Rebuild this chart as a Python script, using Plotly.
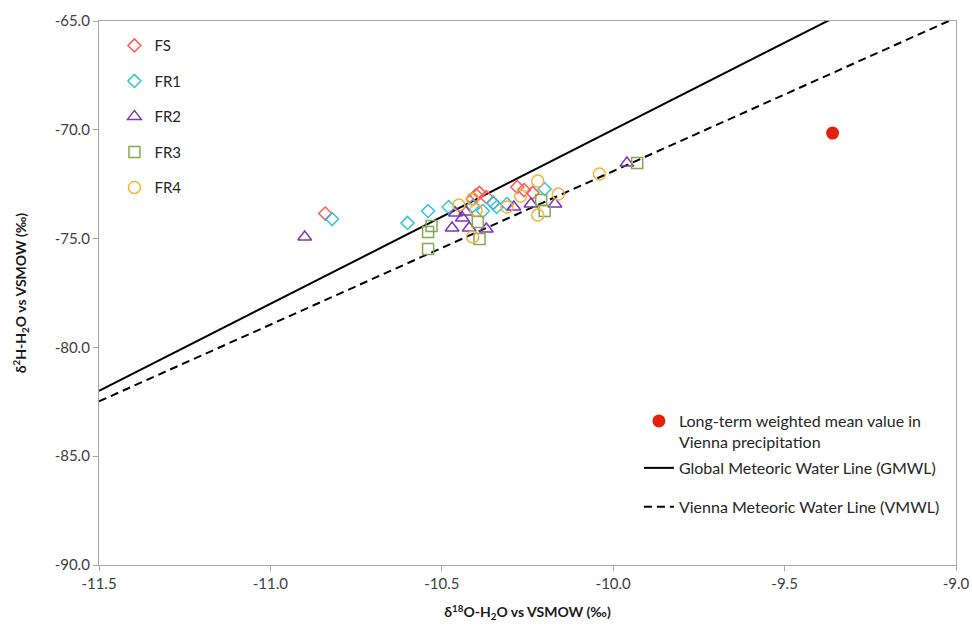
import plotly.graph_objects as go

# Stable isotope data (δ18O, δ2H in ‰ vs VSMOW)
fs_d18o = [-10.84, -10.40, -10.39, -10.37, -10.41, -10.35, -10.28, -10.26, -10.235]
fs_d2h = [-73.85, -73.00, -72.90, -73.09, -73.18, -73.36, -72.63, -72.77, -72.90]

fr1_d18o = [-10.82, -10.60, -10.54, -10.48, -10.41, -10.38, -10.35, -10.34, -10.31, -10.20]
fr1_d2h = [-74.10, -74.28, -73.73, -73.55, -73.50, -73.73, -73.36, -73.55, -73.41, -72.72]

fr2_d18o = [-10.90, -10.47, -10.46, -10.44, -10.43, -10.42, -10.37, -10.29, -10.24, -10.17, -9.96]
fr2_d2h = [-74.93, -74.51, -73.82, -74.05, -73.78, -74.51, -74.56, -73.55, -73.41, -73.41, -71.53]

fr3_d18o = [-10.53, -10.54, -10.54, -10.395, -10.39, -10.21, -10.20, -9.93]
fr3_d2h = [-74.42, -74.70, -75.48, -74.24, -75.02, -73.23, -73.73, -71.53]

fr4_d18o = [-10.45, -10.41, -10.40, -10.41, -10.31, -10.27, -10.22, -10.22, -10.16, -10.04]
fr4_d2h = [-73.46, -73.18, -73.69, -74.93, -73.55, -73.04, -72.35, -73.92, -72.95, -72.03]

vienna_d18o = [-9.36]
vienna_d2h = [-70.15]

# Meteoric water lines, end points across the plotted δ18O range
gmwl_d18o = [-11.5, -9.0]
gmwl_d2h = [-82.0, -62.0]
vmwl_d18o = [-11.5, -9.0]
vmwl_d2h = [-82.48, -64.85]

x_ticks = [-11.5, -11.0, -10.5, -10.0, -9.5, -9.0]
x_labels = ["-11.5", "-11.0", "-10.5", "-10.0", "-9.5", "-9.0"]
y_ticks = [-90, -85, -80, -75, -70, -65]
y_labels = ["-90.0", "-85.0", "-80.0", "-75.0", "-70.0", "-65.0"]

FONT = "Lato"

fig = go.Figure()

series = [
    ("FS", fs_d18o, fs_d2h, "diamond-open", "#FF5A5A", 10),
    ("FR1", fr1_d18o, fr1_d2h, "diamond-open", "#2EC5DA", 10),
    ("FR2", fr2_d18o, fr2_d2h, "triangle-up-open", "#7E35BE", 12),
    ("FR3", fr3_d18o, fr3_d2h, "square-open", "#86A852", 11),
    ("FR4", fr4_d18o, fr4_d2h, "circle-open", "#F5B23A", 12),
]

fig.add_trace(go.Scatter(
    x=gmwl_d18o, y=gmwl_d2h, mode="lines", name="Global Meteoric Water Line (GMWL)",
    line=dict(color="#000000", width=2), legend="legend3", legendgroup="g2", legendrank=2,
))
fig.add_trace(go.Scatter(
    x=vmwl_d18o, y=vmwl_d2h, mode="lines", name="Vienna Meteoric Water Line (VMWL)",
    line=dict(color="#000000", width=2, dash="8px,5px"), legend="legend3", legendgroup="g3",
    legendrank=3,
))

for i, (name, xs, ys, sym, col, size) in enumerate(series):
    fig.add_trace(go.Scatter(
        x=xs, y=ys, mode="markers", name=name, legendgroup=name, legendrank=i,
        marker=dict(symbol=sym, size=size, color=col, line=dict(width=1.5, color=col)),
    ))

fig.add_trace(go.Scatter(
    x=vienna_d18o, y=vienna_d2h, mode="markers",
    name="Long-term weighted mean value in<br>Vienna precipitation",
    marker=dict(symbol="circle", size=13, color="#E2200C"),
    legend="legend2", legendgroup="g1", legendrank=1,
))

axis_common = dict(
    showline=True, linecolor="#A6A6A6", linewidth=1.3, mirror=True,
    ticks="outside", ticklen=5, tickcolor="#A6A6A6", tickwidth=1.3,
    showgrid=False, zeroline=False,
    tickfont=dict(family=FONT, size=15, color="#404040"),
)

fig.update_layout(
    width=972, height=631,
    margin=dict(l=99, r=16, t=21, b=66),
    paper_bgcolor="white", plot_bgcolor="white",
    font=dict(family=FONT, size=15, color="#262626"),
    xaxis=dict(
        range=[-11.5, -9.0], tickvals=x_ticks, ticktext=x_labels, automargin=False,
        title=dict(text="<b>δ<sup>18</sup>O-H<sub>2</sub>O vs VSMOW (‰)</b>",
                   font=dict(family=FONT, size=14, color="#1A1A1A"), standoff=16),
        **axis_common,
    ),
    yaxis=dict(
        range=[-90, -65], tickvals=y_ticks, ticktext=y_labels, automargin=True,
        title=dict(text="<b>δ<sup>2</sup>H-H<sub>2</sub>O vs VSMOW (‰)</b>",
                   font=dict(family=FONT, size=14, color="#1A1A1A"), standoff=24),
        **axis_common,
    ),
    legend=dict(
        x=0.018, y=0.985, xanchor="left", yanchor="top",
        traceorder="grouped", tracegroupgap=13,
        font=dict(family=FONT, size=15, color="#262626"),
        bgcolor="rgba(0,0,0,0)", borderwidth=0,
    ),
    legend2=dict(
        x=0.63, y=0.296, xanchor="left", yanchor="top", valign="top",
        font=dict(family=FONT, size=16, color="#262626"),
        bgcolor="rgba(0,0,0,0)", borderwidth=0,
    ),
    legend3=dict(
        x=0.63, y=0.2096, xanchor="left", yanchor="top",
        traceorder="grouped", tracegroupgap=15,
        font=dict(family=FONT, size=16, color="#262626"),
        bgcolor="rgba(0,0,0,0)", borderwidth=0,
    ),
    showlegend=True,
)

fig.write_html("out.html")
